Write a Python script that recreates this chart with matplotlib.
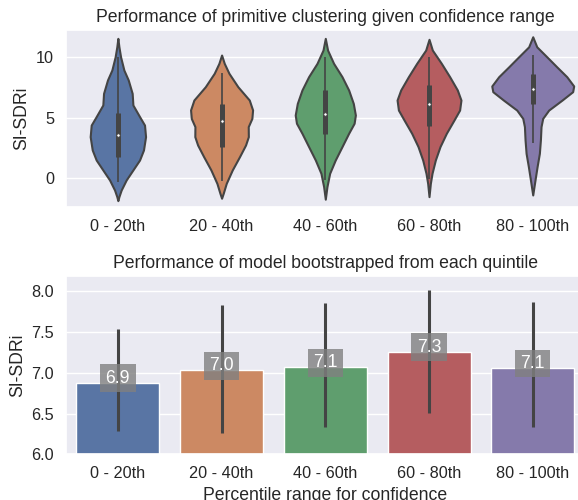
import matplotlib
matplotlib.use("Agg")
import matplotlib.pyplot as plt
import seaborn as sns
import numpy as np

sns.set_theme(style="darkgrid")
plt.rcParams['font.family'] = ['Liberation Sans', 'DejaVu Sans']

categories = ["0 - 20th", "20 - 40th", "40 - 60th", "60 - 80th", "80 - 100th"]

# violin outlines: y values and half widths (x units)
violin_y = [
    [11.57, 10.88, 10.05, 8.95, 8.13, 7.02, 6.06, 5.10, 4.40, 3.44, 2.34, 1.51, 0.69, -0.14, -0.97, -1.52, -1.85],
    [10.19, 9.50, 8.68, 7.57, 6.47, 5.65, 4.95, 4.27, 3.44, 2.75, 1.79, 0.69, -0.42, -1.24, -1.65],
    [11.57, 10.60, 9.50, 8.40, 7.30, 6.19, 5.23, 4.55, 3.72, 2.62, 1.51, 0.41, -0.69, -1.73],
    [11.49, 10.60, 9.50, 8.40, 7.30, 6.47, 5.64, 4.82, 3.72, 2.62, 1.51, 0.41, -0.42, -1.52],
    [11.70, 10.87, 10.05, 9.22, 8.40, 7.63, 7.16, 6.47, 5.64, 4.95, 4.27, 3.17, 2.06, 0.96, -0.14, -1.38],
]
violin_half = [
    [0, 0.010, 0.026, 0.058, 0.100, 0.138, 0.145, 0.209, 0.257, 0.267, 0.247, 0.209, 0.145, 0.080, 0.032, 0.010, 0],
    [0, 0.026, 0.071, 0.157, 0.267, 0.299, 0.292, 0.257, 0.258, 0.231, 0.173, 0.103, 0.045, 0.016, 0],
    [0, 0.022, 0.080, 0.161, 0.225, 0.270, 0.290, 0.278, 0.225, 0.161, 0.096, 0.042, 0.016, 0],
    [0, 0.032, 0.119, 0.199, 0.273, 0.308, 0.295, 0.241, 0.167, 0.106, 0.061, 0.029, 0.013, 0],
    [0, 0.039, 0.135, 0.231, 0.328, 0.395, 0.385, 0.283, 0.154, 0.096, 0.080, 0.074, 0.064, 0.042, 0.022, 0],
]
q1 = [1.79, 2.61, 3.66, 4.32, 6.11]
median = [3.58, 4.74, 5.31, 6.11, 7.38]
q3 = [5.37, 6.14, 7.30, 7.69, 8.62]
whisk_lo = [-0.28, -0.2, -0.13, -0.02, 2.94]
whisk_hi = [10.0, 8.68, 10.0, 10.0, 10.19]

# bootstrapped means and error bars
bar_means = [6.88, 7.03, 7.07, 7.26, 7.06]
err_lo = [6.29, 6.26, 6.34, 6.51, 6.33]
err_hi = [7.54, 7.83, 7.86, 8.02, 7.87]

colors = sns.color_palette("deep", 5, desat=0.75)
gray = "#444444"
x = np.arange(len(categories))

fig = plt.figure(figsize=(5.78, 5.0), dpi=100)
ax1 = fig.add_axes([0.1142, 0.5854, 0.8972, 0.3546])
ax2 = fig.add_axes([0.1142, 0.0914, 0.8972, 0.3566])

# top: violins
stats = []
for i in range(len(categories)):
    stats.append({
        "coords": np.array(violin_y[i]),
        "vals": np.array(violin_half[i]),
        "mean": median[i], "median": median[i],
        "min": violin_y[i][-1], "max": violin_y[i][0],
    })
widths = [2 * max(h) for h in violin_half]
parts = ax1.violin(stats, positions=x, widths=widths, showmeans=False,
                   showextrema=False, showmedians=False)
for body, c in zip(parts["bodies"], colors):
    body.set_facecolor(c)
    body.set_edgecolor(gray)
    body.set_linewidth(1.5)
    body.set_alpha(1)
    body.set_zorder(2)

ax1.vlines(x, whisk_lo, whisk_hi, color=gray, lw=1.2, zorder=3)
ax1.vlines(x, q1, q3, color=gray, lw=3.6, zorder=3)
ax1.scatter(x, median, s=6, color="white", edgecolor=gray, lw=0.6, zorder=4)

ax1.set_xlim(-0.5, 4.5)
ax1.set_ylim(-2.4, 12.26)
ax1.set_yticks([0, 5, 10])
ax1.set_xticks(x)
ax1.set_xticklabels(categories)
ax1.grid(False, axis="x")
ax1.set_ylabel("SI-SDRi", fontsize=12.7)
ax1.set_title("Performance of primitive clustering given confidence range", fontsize=12.7)

# bottom: bars
ax2.bar(x, bar_means, width=0.8, color=colors, edgecolor="white", linewidth=1, zorder=2)
for i in range(len(categories)):
    ax2.plot([x[i], x[i]], [err_lo[i], err_hi[i]], color=gray, lw=2.2,
             solid_capstyle="butt", zorder=3)
    ax2.text(x[i], bar_means[i], f"{bar_means[i]:.1f}", ha="center", color="white",
             fontsize=12.7, zorder=4,
             bbox=dict(facecolor="gray", alpha=0.8, edgecolor="none"))

ax2.set_xlim(-0.5, 4.5)
ax2.set_ylim(6.0, 8.19)
ax2.set_yticks([6.0, 6.5, 7.0, 7.5, 8.0])
ax2.set_xticks(x)
ax2.set_xticklabels(categories)
ax2.grid(False, axis="x")
ax2.set_ylabel("SI-SDRi", fontsize=12.7)
ax2.set_xlabel("Percentile range for confidence", fontsize=12.7)
ax2.set_title("Performance of model bootstrapped from each quintile", fontsize=12.7)

for ax in (ax1, ax2):
    ax.tick_params(length=0, pad=8.5, labelsize=11.7)
    ax.yaxis.set_major_formatter(matplotlib.ticker.FormatStrFormatter(
        "%d" if ax is ax1 else "%.1f"))

fig.savefig("out.png", dpi=100)
